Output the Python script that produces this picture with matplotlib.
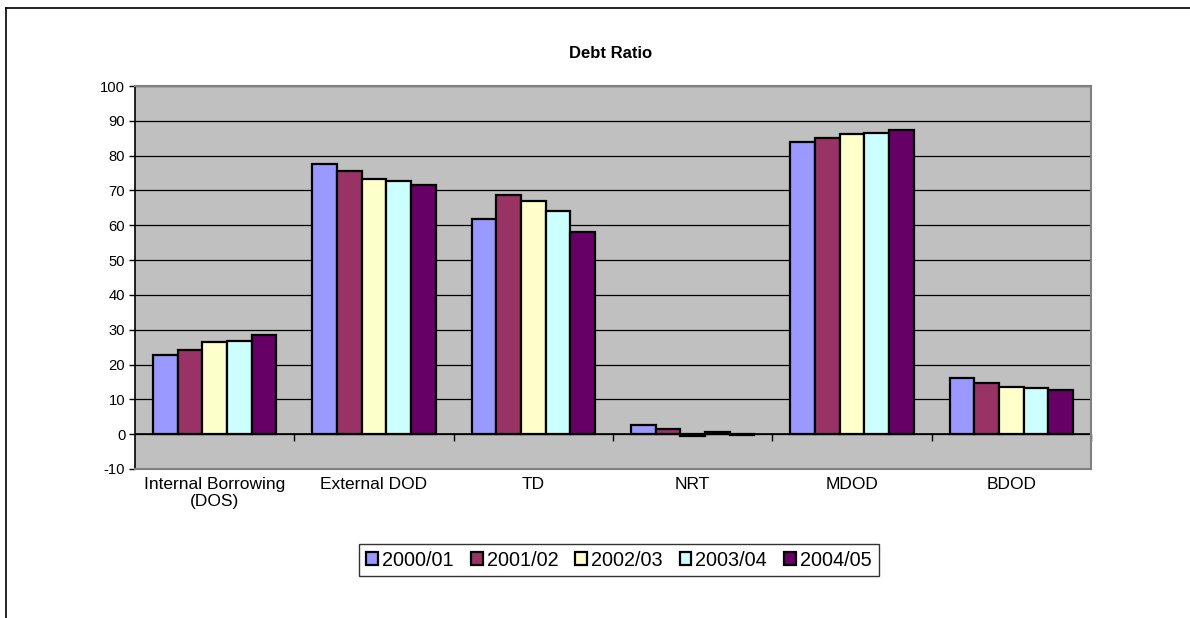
import matplotlib
matplotlib.use("Agg")
import matplotlib.pyplot as plt
import numpy as np
from matplotlib.lines import Line2D
from matplotlib.patches import Patch

plt.rcParams['font.family'] = ['Liberation Sans', 'DejaVu Sans']
plt.rcParams['axes.unicode_minus'] = False

categories = ["Internal Borrowing\n(DOS)", "External DOD", "TD", "NRT", "MDOD", "BDOD"]
series_names = ["2000/01", "2001/02", "2002/03", "2003/04", "2004/05"]
s2000 = [22.6, 77.5, 61.8, 2.7, 84.0, 16.0]
s2001 = [24.2, 75.5, 68.7, 1.6, 85.0, 14.7]
s2002 = [26.5, 73.2, 66.9, -0.4, 86.3, 13.6]
s2003 = [26.7, 72.8, 64.2, 0.7, 86.6, 13.2]
s2004 = [28.4, 71.5, 58.0, -0.2, 87.4, 12.7]
series = [s2000, s2001, s2002, s2003, s2004]
colors = ["#9999FF", "#993366", "#FFFFCC", "#CCFFFF", "#660066"]
yticks = list(range(-10, 101, 10))

fig = plt.figure(figsize=(11.9, 6.18), dpi=100)
ax = fig.add_axes([135/1190, 1-469/618, 956/1190, 383/618])
ax.set_facecolor("#C0C0C0")

x = np.arange(len(categories))
w = 0.155
for j, (vals, c) in enumerate(zip(series, colors)):
    ax.bar(x + (j-2)*w, vals, width=w, color=c, edgecolor="black", linewidth=1.6, zorder=3)

ax.set_xlim(-0.5, len(categories)-0.5)
ax.set_ylim(-10, 100)
ax.set_yticks(yticks)
ax.yaxis.grid(True, color="black", linewidth=0.9, zorder=0)
ax.set_axisbelow(True)
ax.tick_params(axis='y', direction='out', length=4, width=1, labelsize=10.6, pad=3, colors='black')
ax.set_xticks(x)
ax.set_xticklabels(categories, fontsize=12.5, linespacing=1.1)
ax.tick_params(axis='x', length=0, pad=6)

for s in ['top', 'right', 'bottom']:
    ax.spines[s].set_color("#808080")
    ax.spines[s].set_linewidth(1.5)
ax.spines['left'].set_color("black")
ax.spines['left'].set_linewidth(1.2)

ax.axhline(0, color="black", linewidth=1.2, zorder=2)
sec = ax.secondary_xaxis(10/110)
sec.set_xticks(np.arange(0.5, len(categories), 1.0))
sec.set_xticklabels([])
sec.tick_params(direction='out', length=5, width=1, colors='black')
sec.spines['bottom'].set_visible(False)

fig.text(0.513, 1-53/618, "Debt Ratio", ha='center', va='center', fontsize=12, fontweight='bold')

handles = [Patch(facecolor=c, edgecolor='black', linewidth=1.6) for c in colors]
leg = fig.legend(handles, series_names, loc='center', bbox_to_anchor=(619/1190, 1-560/618),
                 ncol=5, fontsize=14.3, frameon=True, fancybox=False, edgecolor='black',
                 handlelength=0.6, handleheight=0.6, handletextpad=0.2, columnspacing=0.85,
                 borderpad=0.35, borderaxespad=0)
leg.get_frame().set_linewidth(1.0)

fig.add_artist(Line2D([6/1190, 1], [1-8/618, 1-8/618], color='black', linewidth=1.2, transform=fig.transFigure))
fig.add_artist(Line2D([6/1190, 6/1190], [0, 1-8/618], color='black', linewidth=1.2, transform=fig.transFigure))

fig.savefig("out.png", dpi=100)
